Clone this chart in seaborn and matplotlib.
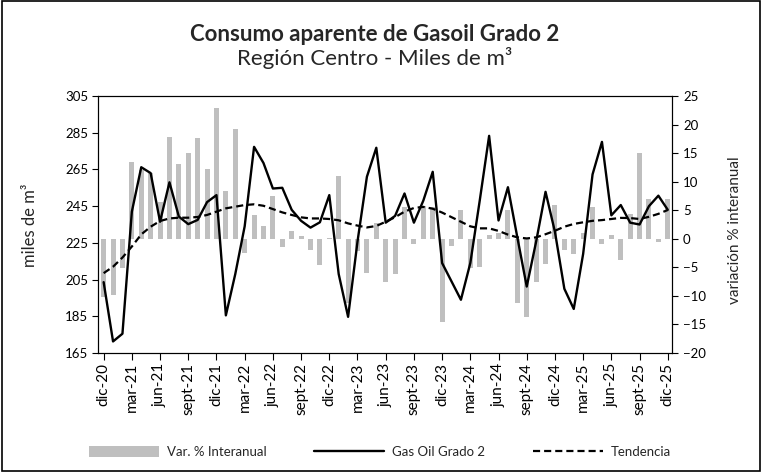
import matplotlib
matplotlib.use("Agg")
import matplotlib.pyplot as plt
import seaborn as sns
import pandas as pd
from matplotlib.patches import Patch, Rectangle
from matplotlib.lines import Line2D

months = [
    "dic-20",
    "ene-21", "feb-21", "mar-21", "abr-21", "may-21", "jun-21", "jul-21", "ago-21", "sept-21", "oct-21", "nov-21", "dic-21",
    "ene-22", "feb-22", "mar-22", "abr-22", "may-22", "jun-22", "jul-22", "ago-22", "sept-22", "oct-22", "nov-22", "dic-22",
    "ene-23", "feb-23", "mar-23", "abr-23", "may-23", "jun-23", "jul-23", "ago-23", "sept-23", "oct-23", "nov-23", "dic-23",
    "ene-24", "feb-24", "mar-24", "abr-24", "may-24", "jun-24", "jul-24", "ago-24", "sept-24", "oct-24", "nov-24", "dic-24",
    "ene-25", "feb-25", "mar-25", "abr-25", "may-25", "jun-25", "jul-25", "ago-25", "sept-25", "oct-25", "nov-25", "dic-25",
]

gasoil = [
    203.6,
    171.3, 175.5, 242.0, 266.2, 263.0, 236.5, 258.0, 239.3, 235.2, 237.5, 247.2, 251.0,
    185.5, 208.0, 234.0, 277.3, 268.5, 254.6, 255.0, 243.0, 237.0, 233.3, 236.2, 251.0,
    208.0, 184.7, 225.7, 261.0, 276.8, 236.0, 239.7, 251.9, 236.0, 248.0, 263.7, 214.0,
    204.0, 194.0, 214.0, 248.0, 283.3, 237.2, 255.3, 228.0, 201.2, 225.7, 252.8, 231.0,
    200.0, 189.0, 219.0, 262.3, 280.0, 240.0, 245.6, 236.0, 235.0, 245.0, 250.7, 243.0,
]

tendencia = [
    208.5,
    212.0, 217.0, 223.0, 229.6, 233.8, 236.9, 238.3, 238.7, 238.7, 239.1, 240.2, 242.0,
    243.8, 244.7, 245.6, 246.0, 245.2, 243.4, 241.6, 240.2, 238.9, 238.3, 238.3, 238.0,
    237.3, 235.6, 234.4, 233.4, 234.2, 236.5, 239.0, 242.0, 244.0, 244.6, 243.6, 241.5,
    239.0, 236.5, 234.0, 232.9, 232.9, 231.5, 229.5, 228.0, 227.4, 228.0, 229.7, 231.6,
    233.8, 235.3, 236.2, 237.0, 237.4, 238.0, 238.6, 238.5, 238.0, 239.2, 240.8, 242.9,
]

var_interanual = [
    -10.2,
    -9.8, -5.1, 13.4, 12.0, 11.6, 6.5, 17.9, 13.1, 15.0, 17.7, 12.3, 22.9,
    8.3, 19.2, -2.5, 4.2, 2.3, 7.5, -1.4, 1.4, 0.5, -2.0, -4.6, 0.1,
    11.0, -11.3, -2.1, -6.0, 2.7, -7.5, -6.2, 5.6, -0.9, 5.8, 5.5, -14.6,
    -1.2, 5.1, -5.1, -5.0, 0.7, 1.0, 5.1, -11.2, -13.7, -7.6, -4.4, 5.9,
    -1.9, -2.7, 1.0, 5.5, -1.0, 0.7, -3.7, 4.4, 15.1, 6.9, -0.6, 6.9,
]

tick_labels = [
    "dic-20", "mar-21", "jun-21", "sept-21", "dic-21", "mar-22", "jun-22",
    "sept-22", "dic-22", "mar-23", "jun-23", "sept-23", "dic-23", "mar-24",
    "jun-24", "sept-24", "dic-24", "mar-25", "jun-25", "sept-25", "dic-25",
]

left_ticks = [165, 185, 205, 225, 245, 265, 285, 305]
right_ticks = [-20, -15, -10, -5, 0, 5, 10, 15, 20, 25]

sns.set_theme(style="white")
plt.rcParams["font.family"] = ["Lato", "DejaVu Sans"]

df = pd.DataFrame({
    "mes": months,
    "gasoil": gasoil,
    "tendencia": tendencia,
    "var": var_interanual,
})
df["pos"] = df.index

fig = plt.figure(figsize=(7.62, 4.72), dpi=100)
ax = fig.add_axes([98 / 762, 1 - 353 / 472, (672 - 98) / 762, (353 - 96) / 472])

BAR = "#BFBFBF"
DASH = (0, (3.2, 1.8))
sns.barplot(data=df, x="pos", y="var", ax=ax, color=BAR, saturation=1,
            width=0.53, native_scale=True, linewidth=0)
ax.set_ylim(-20, 25)
ax.set_yticks(right_ticks)
ax.yaxis.tick_right()

ax2 = ax.twinx()
sns.lineplot(data=df, x="pos", y="gasoil", ax=ax2, color="black", lw=1.7)
sns.lineplot(data=df, x="pos", y="tendencia", ax=ax2, color="black", lw=1.6,
             linestyle=DASH)
ax2.set_ylim(165, 305)
ax2.set_yticks(left_ticks)
ax2.yaxis.tick_left()

ax.set_xlim(-0.6, 60.45)
tick_pos = [months.index(t) for t in tick_labels]
ax.set_xticks(tick_pos)
ax.set_xticklabels(tick_labels, rotation=90, fontsize=11)

for a in (ax, ax2):
    a.set_xlabel("")
    a.set_ylabel("")
    for s in a.spines.values():
        s.set_color("black")
        s.set_linewidth(0.8)

ax.tick_params(axis="x", bottom=True, direction="out", length=5, width=0.8,
               color="black", pad=2, labelcolor="black")
ax.tick_params(axis="y", right=True, left=False, labelright=True, labelleft=False,
               direction="out", length=4, width=0.8, color="black",
               labelsize=9.5, labelcolor="black", pad=4)
ax2.tick_params(axis="y", left=True, right=False, labelleft=True, labelright=False,
                direction="out", length=4, width=0.8, color="black",
                labelsize=9.5, labelcolor="black", pad=3)

fig.text(0.492, 0.926, "Consumo aparente de Gasoil Grado 2", ha="center",
         va="center", fontsize=16, fontweight="bold")
fig.text(0.492, 0.877, "Región Centro - Miles de m³", ha="center", va="center",
         fontsize=16)
fig.text(0.040, 0.523, "miles de m³", rotation=90, ha="center", va="center",
         fontsize=12)
fig.text(0.965, 0.513, "variación % interanual", rotation=90, ha="center",
         va="center", fontsize=11)

handles = [
    Patch(facecolor=BAR, edgecolor="none"),
    Line2D([0], [0], color="black", lw=1.7),
    Line2D([0], [0], color="black", lw=1.6, linestyle=DASH),
]
labels = ["Var. % Interanual", "Gas Oil Grado 2", "Tendencia"]
fig.legend(handles, labels, loc="center", bbox_to_anchor=(0.4987, 1 - 452 / 472),
           ncol=3, frameon=False, fontsize=9.5, handlelength=5.3,
           handleheight=0.9, handletextpad=0.6, columnspacing=3.6)

fig.add_artist(Rectangle((0.002, 0.003), 0.996, 0.994, transform=fig.transFigure,
                         fill=False, edgecolor="black", linewidth=1.2))

fig.savefig("out.png", dpi=100)
